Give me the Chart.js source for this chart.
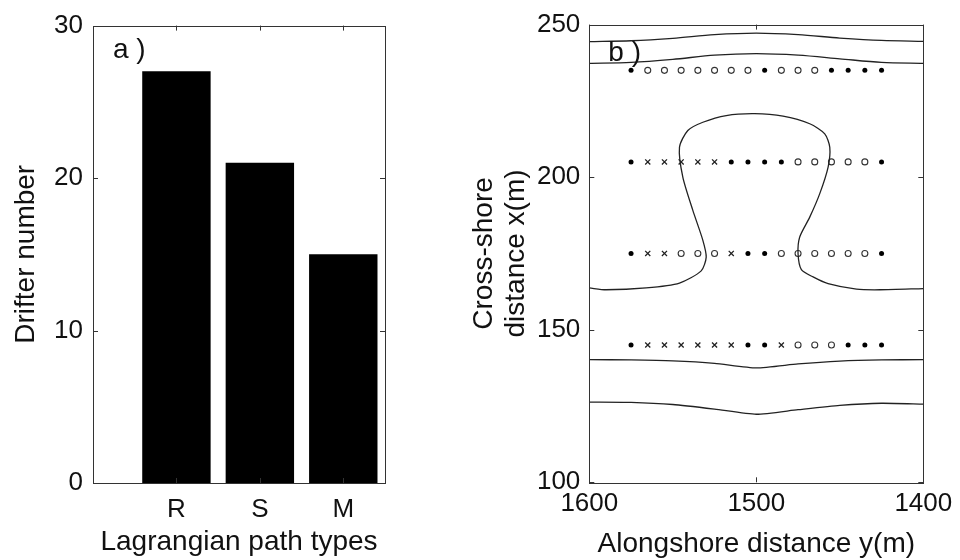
<!DOCTYPE html>
<html>
<head>
<meta charset="utf-8">
<script src="https://cdn.jsdelivr.net/npm/chart.js@4.4.1/dist/chart.umd.min.js"></script>
<style>
body{margin:0;background:#fff;}
#wrap{position:relative;width:960px;height:560px;overflow:hidden;}
canvas{position:absolute;top:0;}
</style>
</head>
<body>
<div id="wrap">
<canvas id="left" width="440" height="560" style="left:0"></canvas>
<canvas id="right" width="520" height="560" style="left:440px"></canvas>
</div>
<script>
// panel a
const pathTypes = ["R", "S", "M"];
const drifterCounts = [27, 21, 15];
const countTicks = [0, 10, 20, 30];

// panel b : drifter release grid
const alongshoreY = [1575, 1565, 1555, 1545, 1535, 1525, 1515, 1505, 1495, 1485, 1475, 1465, 1455, 1445, 1435, 1425];
const crossshoreRows = [235, 205, 175, 145];
// "." filled dot, "x" cross, "o" open circle
const row235 = [".", "o", "o", "o", "o", "o", "o", "o", ".", "o", "o", "o", ".", ".", ".", "."];
const row205 = [".", "x", "x", "x", "x", "x", ".", ".", ".", ".", "o", "o", "o", "o", "o", "."];
const row175 = [".", "x", "x", "o", "o", "o", "x", ".", ".", "o", "o", "o", "o", "o", "o", "."];
const row145 = [".", "x", "x", "x", "x", "x", "x", ".", ".", "x", "o", "o", "o", ".", ".", "."];
const rowTypes = [row235, row205, row175, row145];

// contours, [alongshore y, cross-shore x]
const contourTop1 = [[1600, 244.4], [1575, 244.7], [1550, 245.5], [1525, 246.7], [1500, 247.2], [1475, 246.7], [1450, 245.6], [1425, 244.8], [1400, 244.5]];
const contourTop2 = [[1600, 237.3], [1575, 237.6], [1550, 238.6], [1525, 240.0], [1500, 240.5], [1475, 240.0], [1450, 238.8], [1425, 237.6], [1400, 237.3]];
const contourBulb = [[1600, 163.7], [1590, 163.1], [1566, 163.7], [1546, 165.3], [1533, 169.3], [1530, 173.8], [1532, 179.3],
  [1538, 189.1], [1544, 200.0], [1546, 209.8], [1541, 215.3], [1532, 218.0], [1518, 220.2], [1501, 220.8], [1484, 220.0],
  [1468, 217.5], [1459, 214.2], [1456, 209.8], [1457, 203.3], [1462, 194.6], [1468, 186.9], [1474, 180.4], [1475, 174.9],
  [1473, 169.7], [1466, 167.3], [1457, 165.1], [1440, 163.3], [1426, 163.1], [1400, 163.5]];
const contourLow1 = [[1600, 140.2], [1575, 140.1], [1550, 139.8], [1525, 139.0], [1500, 137.5], [1475, 138.8], [1450, 139.7], [1425, 140.1], [1400, 140.2]];
const contourLow2 = [[1600, 126.3], [1575, 126.2], [1550, 125.5], [1525, 124.0], [1500, 122.3], [1475, 123.8], [1450, 125.2], [1425, 125.9], [1400, 125.6]];

const FONT = "'Liberation Sans', Arial, sans-serif";
const INK = "#111";

const boxPlugin = {
  id: "box",
  afterDraw(chart, args, opts) {
    const { ctx, chartArea: a, scales } = chart;
    ctx.save();
    ctx.strokeStyle = "#333";
    ctx.lineWidth = 1;
    ctx.strokeRect(Math.round(a.left) + 0.5, Math.round(a.top) + 0.5, Math.round(a.right - a.left), Math.round(a.bottom - a.top));
    const t = 5;
    ctx.beginPath();
    scales.x.ticks.forEach(tk => {
      const px = Math.round(scales.x.getPixelForValue(tk.value)) + 0.5;
      ctx.moveTo(px, a.top); ctx.lineTo(px, a.top + t);
      ctx.moveTo(px, a.bottom); ctx.lineTo(px, a.bottom - t);
    });
    scales.y.ticks.forEach(tk => {
      const py = Math.round(scales.y.getPixelForValue(tk.value)) + 0.5;
      ctx.moveTo(a.left, py); ctx.lineTo(a.left + t, py);
      ctx.moveTo(a.right, py); ctx.lineTo(a.right - t, py);
    });
    ctx.stroke();
    ctx.fillStyle = INK;
    ctx.font = "28px " + FONT;
    ctx.textBaseline = "alphabetic";
    ctx.fillText(opts.label, a.left + opts.dx, a.top + opts.dy);
    ctx.restore();
  }
};

const tickFont = { family: FONT, size: 26 };
const titleFont = { family: FONT, size: 28, lineHeight: 1.15 };

new Chart(document.getElementById("left"), {
  type: "bar",
  data: {
    datasets: [{
      data: drifterCounts.map((c, i) => ({ x: i + 1, y: c })),
      backgroundColor: "#000",
      borderWidth: 0,
      barPercentage: 0.82,
      categoryPercentage: 1
    }]
  },
  options: {
    responsive: false,
    animation: false,
    layout: { padding: { top: 24, right: 55, left: 0, bottom: 0 } },
    plugins: { legend: { display: false }, tooltip: { enabled: false }, box: { label: "a )", dx: 20, dy: 32 } },
    scales: {
      x: {
        type: "linear", min: 0, max: 3.5, offset: false,
        afterBuildTicks: s => { s.ticks = pathTypes.map((p, i) => ({ value: i + 1 })); },
        ticks: { callback: v => pathTypes[v - 1], font: tickFont, color: INK, padding: 11, maxRotation: 0, autoSkip: false },
        grid: { display: false, drawTicks: false },
        border: { display: false },
        title: { display: true, text: "Lagrangian path types", font: titleFont, color: INK, padding: { top: 0, bottom: 2 } },
        afterFit: s => { s.height = 77; }
      },
      y: {
        min: 0, max: 30,
        afterBuildTicks: s => { s.ticks = countTicks.map(v => ({ value: v })); },
        ticks: { font: tickFont, color: INK, padding: 10 },
        grid: { display: false, drawTicks: false },
        border: { display: false },
        title: { display: true, text: "Drifter number", font: titleFont, color: INK, padding: { top: 10, bottom: 0 } },
        afterFit: s => { s.width = 93; }
      }
    }
  },
  plugins: [boxPlugin]
});

const toPts = arr => arr.map(p => ({ x: p[0], y: p[1] }));
const pick = type => {
  const out = [];
  crossshoreRows.forEach((x, r) => {
    rowTypes[r].forEach((k, i) => { if (k === type) out.push({ x: alongshoreY[i], y: x }); });
  });
  return out;
};
const contourSet = (arr, tension) => ({
  data: toPts(arr), showLine: true, pointRadius: 0, borderColor: "#222", borderWidth: 1.3, tension: tension, fill: false
});

new Chart(document.getElementById("right"), {
  type: "scatter",
  data: {
    datasets: [
      contourSet(contourTop1, 0.3),
      contourSet(contourTop2, 0.3),
      contourSet(contourBulb, 0.25),
      contourSet(contourLow1, 0.2),
      contourSet(contourLow2, 0.2),
      { data: pick("."), pointStyle: "circle", pointRadius: 2.5, backgroundColor: "#000", borderColor: "#000", borderWidth: 0 },
      { data: pick("x"), pointStyle: "crossRot", pointRadius: 3.6, borderColor: "#222", borderWidth: 1.3 },
      { data: pick("o"), pointStyle: "circle", pointRadius: 3, backgroundColor: "#fff", borderColor: "#333", borderWidth: 1.1 }
    ]
  },
  options: {
    responsive: false,
    animation: false,
    layout: { padding: { top: 24, right: 36.7, left: 0, bottom: 0 } },
    plugins: { legend: { display: false }, tooltip: { enabled: false }, box: { label: "b )", dx: 19, dy: 36 } },
    scales: {
      x: {
        type: "linear", reverse: true, min: 1400, max: 1600,
        ticks: { stepSize: 100, callback: v => String(v), font: tickFont, color: INK, padding: 6, maxRotation: 0 },
        grid: { display: false, drawTicks: false },
        border: { display: false },
        title: { display: true, text: "Alongshore distance y(m)", font: titleFont, color: INK, padding: { top: 0, bottom: 0 } },
        afterFit: s => { s.height = 77.7; }
      },
      y: {
        min: 100, max: 250,
        ticks: { stepSize: 50, callback: v => String(v), font: tickFont, color: INK, padding: 9 },
        grid: { display: false, drawTicks: false },
        border: { display: false },
        title: { display: true, text: ["Cross-shore", "distance x(m)"], font: titleFont, color: INK, padding: { top: 28, bottom: 0 } },
        afterFit: s => { s.width = 149.3; }
      }
    }
  },
  plugins: [boxPlugin]
});
</script>
</body>
</html>
